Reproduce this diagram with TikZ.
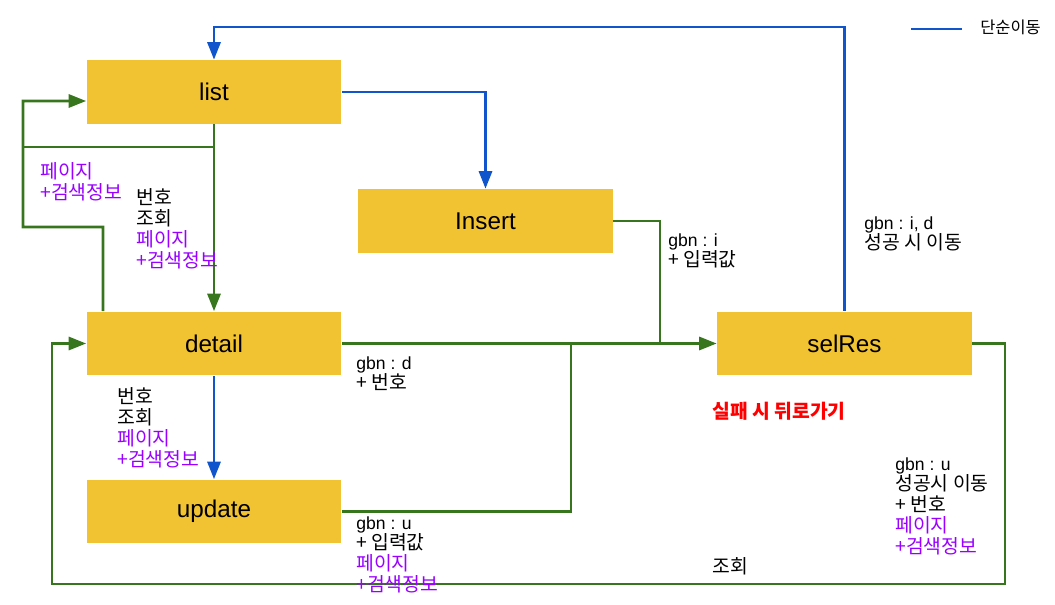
\documentclass[tikz,border=0pt]{standalone}
\usepackage{fontspec}
\usepackage{xcolor}
\usepackage{tikz}
\usetikzlibrary{arrows.meta}
\setmainfont{Liberation Sans}
\newfontfamily\kr[Scale=1.1]{Noto Sans CJK KR}
\definecolor{pageyellow}{RGB}{241, 194, 50}
\definecolor{flowgreen}{RGB}{56, 118, 29}
\definecolor{moveblue}{RGB}{17, 85, 204}
\definecolor{infopurple}{RGB}{153, 0, 255}
\definecolor{failred}{RGB}{255, 0, 0}
\newcommand{\pg}[1]{\textcolor{infopurple}{#1}}

\begin{document}
\begin{tikzpicture}[x=0.02cm, y=-0.02cm,
        pagebox/.style={fill=pageyellow, minimum width=5.1cm, minimum height=1.28cm, inner sep=0pt, font=\fontsize{13.8}{16}\selectfont},
        note/.style={anchor=north west, inner sep=0pt, align=left, font=\fontsize{10}{11.9}\selectfont},
        gline/.style={draw=flowgreen, line width=1.5pt},
        bline/.style={draw=moveblue, line width=1.5pt},
        gflow/.style={gline, -{Triangle[length=10pt, width=7.5pt]}},
        bflow/.style={bline, -{Triangle[length=10pt, width=7.5pt]}}]
        \useasboundingbox (0,0) rectangle (1055,605);

        % Pages
        \node[pagebox] (list) at (214,92) {list};
        \node[pagebox] (insert) at (485.5,221) {Insert};
        \node[pagebox] (detail) at (214,343.5) {detail};
        \node[pagebox] (update) at (214,511.5) {update};
        \node[pagebox] (selres) at (844.5,343.5) {selRes};

        % Bend points
        \coordinate (topbend) at (214,27);
        \coordinate (loopmid) at (23,227);
        \coordinate (loopjoin) at (23,147);
        \coordinate (insjoin) at (660,343.5);
        \coordinate (updjoin) at (571,343.5);
        \coordinate (backright) at (1005,584);
        \coordinate (backleft) at (52,584);
        \coordinate (legstart) at (911,29);
        \coordinate (legend) at (962,29);

        % Simple moves
        \draw[bflow] (selres.north) |- (topbend) -- (list.north);
        \draw[bflow] (list.east) -| (insert.north);
        \draw[bflow] (detail.south) -- (update.north);
        \draw[bline] (legstart) -- (legend);

        % Moves with data
        \draw[gflow] (list.south) -- (detail.north);
        \draw[gflow] ([xshift=-2.22cm]detail.north) |- (loopmid) -- (23,101) -- ([yshift=-0.18cm]list.west);
        \draw[gline] (loopjoin) -- (loopjoin -| list.south);
        \draw[gflow] (detail.east) -- (selres.west);
        \draw[gline] (insert.east) -| (insjoin);
        \draw[gline] (update.east) -| (updjoin);
        \draw[gflow] (selres.east) -| (backright) -- (backleft) |- (detail.west);

        % Labels
        \node[note, font=\fontsize{8.5}{11.9}\selectfont] (legtext) at (980,20) {\kr 단순이동};
        \node[note] (listinfo) at (40,162) {\pg{\kr 페이지}\\\pg{\kr +검색정보}};
        \node[note] (listdetail) at (136,188) {\kr 번호\\\kr 조회\\\pg{\kr 페이지}\\\pg{\kr +검색정보}};
        \node[note] (insinfo) at (668,233) {gbn : i\\\kr + 입력값};
        \node[note] (okinfo) at (864,216) {gbn : i, d\\\kr 성공 시 이동};
        \node[note] (detinfo) at (356,356) {gbn : d\\\kr + 번호};
        \node[note] (detupd) at (117,387) {\kr 번호\\\kr 조회\\\pg{\kr 페이지}\\\pg{\kr +검색정보}};
        \node[note, text=failred, font=\fontsize{10}{11.9}\selectfont\bfseries] (fail) at (712,402) {\kr 실패 시 뒤로가기};
        \node[note] (updinfo) at (356,516) {gbn : u\\\kr + 입력값\\\pg{\kr 페이지}\\\pg{\kr +검색정보}};
        \node[note] (selinfo) at (895,457) {gbn : u\\\kr 성공시 이동\\\kr + 번호\\\pg{\kr 페이지}\\\pg{\kr +검색정보}};
        \node[note] (backinfo) at (712,557) {\kr 조회};
    \end{tikzpicture}
\end{document}
